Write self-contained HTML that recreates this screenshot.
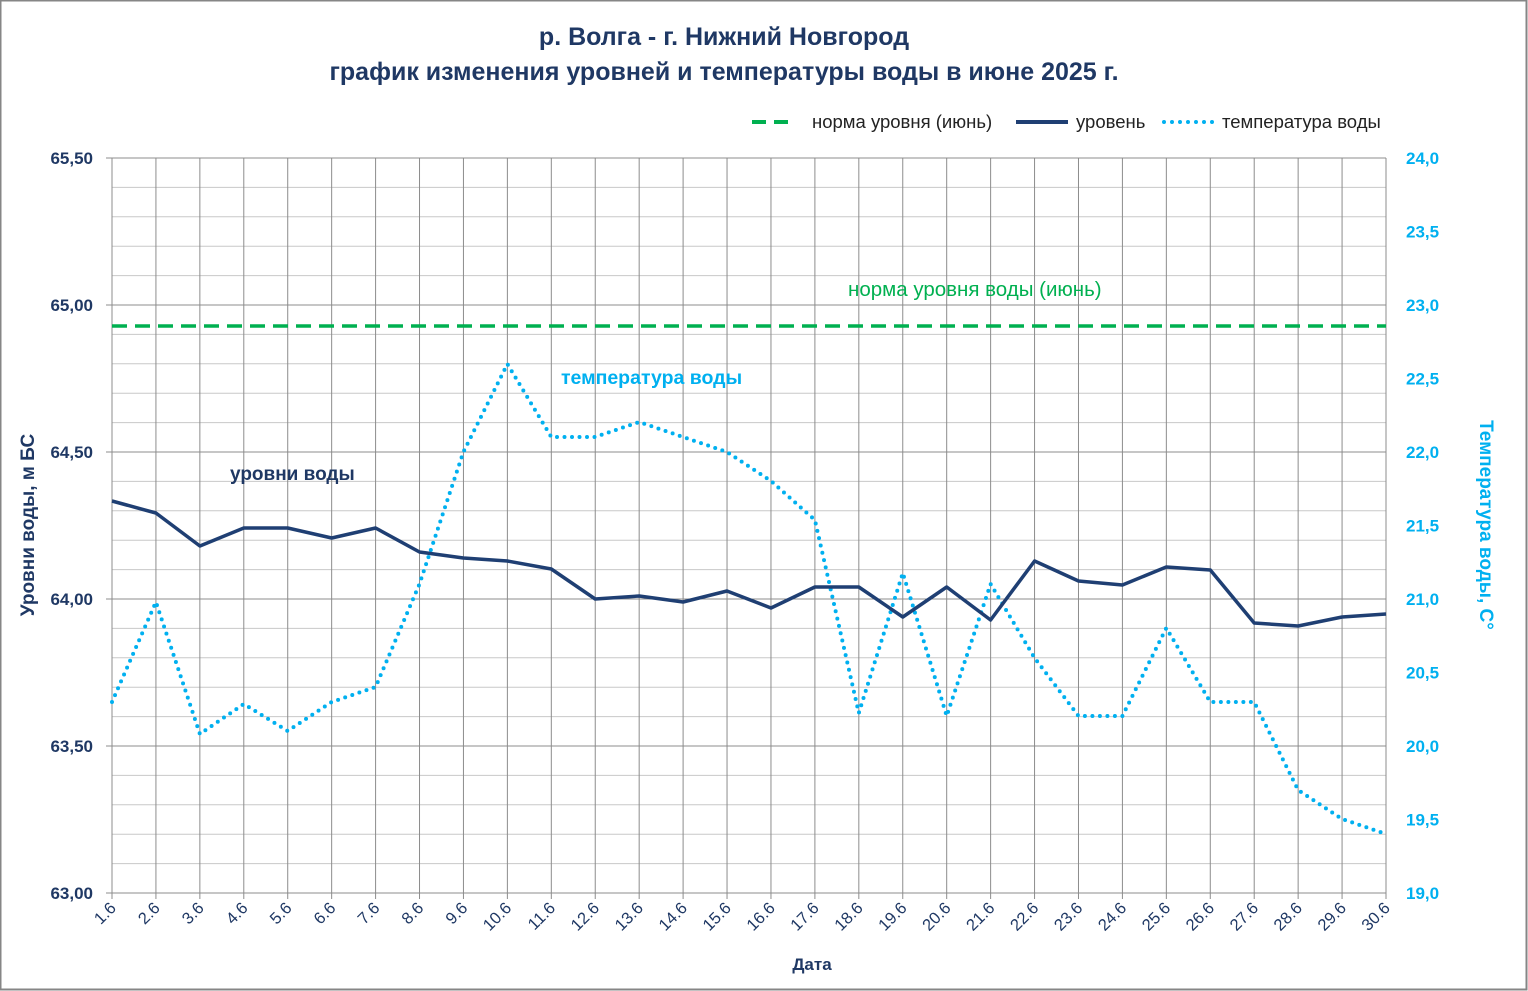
<!DOCTYPE html>
<html><head><meta charset="utf-8"><style>
body{margin:0;background:#fff}
svg{display:block;font-family:"Liberation Sans",sans-serif}
</style></head><body>
<svg id="s" width="1528" height="991" xmlns="http://www.w3.org/2000/svg">
<rect x="0.5" y="0.5" width="1526" height="989" fill="#fff" stroke="#868686" stroke-width="2"/>
<g id="grid"></g>
<text x="724" y="45" text-anchor="middle" font-size="25" font-weight="bold" fill="#1f3864">р. Волга - г. Нижний Новгород</text>
<text x="724" y="80" text-anchor="middle" font-size="25" font-weight="bold" fill="#1f3864">график изменения уровней и температуры воды в июне 2025 г.</text>
<line x1="752" y1="122" x2="796" y2="122" stroke="#00b050" stroke-width="4" stroke-dasharray="14 8"/>
<text x="812" y="128" font-size="18.5" fill="#222">норма уровня (июнь)</text>
<line x1="1016" y1="122" x2="1068" y2="122" stroke="#1f3f73" stroke-width="4"/>
<text x="1076" y="128" font-size="18.5" fill="#222">уровень</text>
<line x1="1164" y1="122" x2="1214" y2="122" stroke="#00b0f0" stroke-width="4" stroke-linecap="round" stroke-dasharray="0 8"/>
<text x="1222" y="128" font-size="18.5" fill="#222">температура воды</text>
<text x="848" y="296" font-size="20.5" fill="#00b050">норма уровня воды  (июнь)</text>
<text x="561" y="384" font-size="19.5" font-weight="bold" fill="#00b0f0">температура воды</text>
<text x="230" y="480" font-size="19" font-weight="bold" fill="#1f3864">уровни воды</text>
<text x="34" y="525" font-size="19" font-weight="bold" fill="#1f3864" text-anchor="middle" transform="rotate(-90 34 525)">Уровни воды, м БС</text>
<text x="1480" y="525" font-size="19" font-weight="bold" fill="#00b0f0" text-anchor="middle" transform="rotate(90 1480 525)">Температура воды, С°</text>
<text x="812" y="970" font-size="17" font-weight="bold" fill="#1f3864" text-anchor="middle">Дата</text>
<g id="data"></g>
</svg>
<script>
const NS="http://www.w3.org/2000/svg";
function el(p,t,a,txt){const e=document.createElementNS(NS,t);for(const k in a)e.setAttribute(k,a[k]);if(txt!==undefined)e.textContent=txt;document.getElementById(p).appendChild(e);return e;}
const X0=112,X1=1386,Y0=158,Y1=893,dx=(X1-X0)/29;
for(let i=0;i<=25;i++){const y=Y0+i*(Y1-Y0)/25;el("grid","line",{x1:X0,x2:X1,y1:y,y2:y,stroke:i%5==0?"#8c8c8c":"#c8c8c8","stroke-width":1});}
for(let i=0;i<30;i++){const x=X0+i*dx;el("grid","line",{x1:x,x2:x,y1:Y0,y2:Y1+6,stroke:"#8c8c8c","stroke-width":1});
 el("grid","text",{x:x+5,y:Y1+16,"font-size":16.5,fill:"#1f3864","text-anchor":"end",transform:`rotate(-45 ${x+5} ${Y1+16})`},(i+1)+".6");}
el("grid","line",{x1:X1,x2:X1,y1:Y0,y2:Y1,stroke:"#8c8c8c"});
const L=["65,50","65,00","64,50","64,00","63,50","63,00"],R=["24,0","23,5","23,0","22,5","22,0","21,5","21,0","20,5","20,0","19,5","19,0"];
L.forEach((s,i)=>{const y=Y0+i*147;el("grid","text",{x:93,y:y+6,"font-size":17,"font-weight":"bold",fill:"#1f3864","text-anchor":"end"},s);el("grid","line",{x1:106,x2:X0,y1:y,y2:y,stroke:"#8c8c8c"});});
R.forEach((s,i)=>{const y=Y0+i*73.5;el("grid","text",{x:1406,y:y+6,"font-size":17,"font-weight":"bold",fill:"#00b0f0"},s);});
el("data","line",{x1:X0,x2:X1,y1:326,y2:326,stroke:"#00b050","stroke-width":3.5,"stroke-dasharray":"15 8"});
const lv=[501,513,546,528,528,538,528,552,558,561,569,599,596,602,591,608,587,587,617,587,620,561,581,585,567,570,623,626,617,614];
const tp=[702,602,734,704,731,702,687,584,452,364,437,437,422,437,452,481,520,713,573,716,584,658,716,716,628,702,702,790,819,834];
const pts=a=>a.map((y,i)=>(X0+i*dx).toFixed(1)+","+y).join(" ");
el("data","polyline",{points:pts(tp),fill:"none",stroke:"#00b0f0","stroke-width":4,"stroke-linecap":"round","stroke-dasharray":"0 7.5"});
el("data","polyline",{points:pts(lv),fill:"none",stroke:"#1f3f73","stroke-width":3.5,"stroke-linejoin":"round"});
</script>
</body></html>
